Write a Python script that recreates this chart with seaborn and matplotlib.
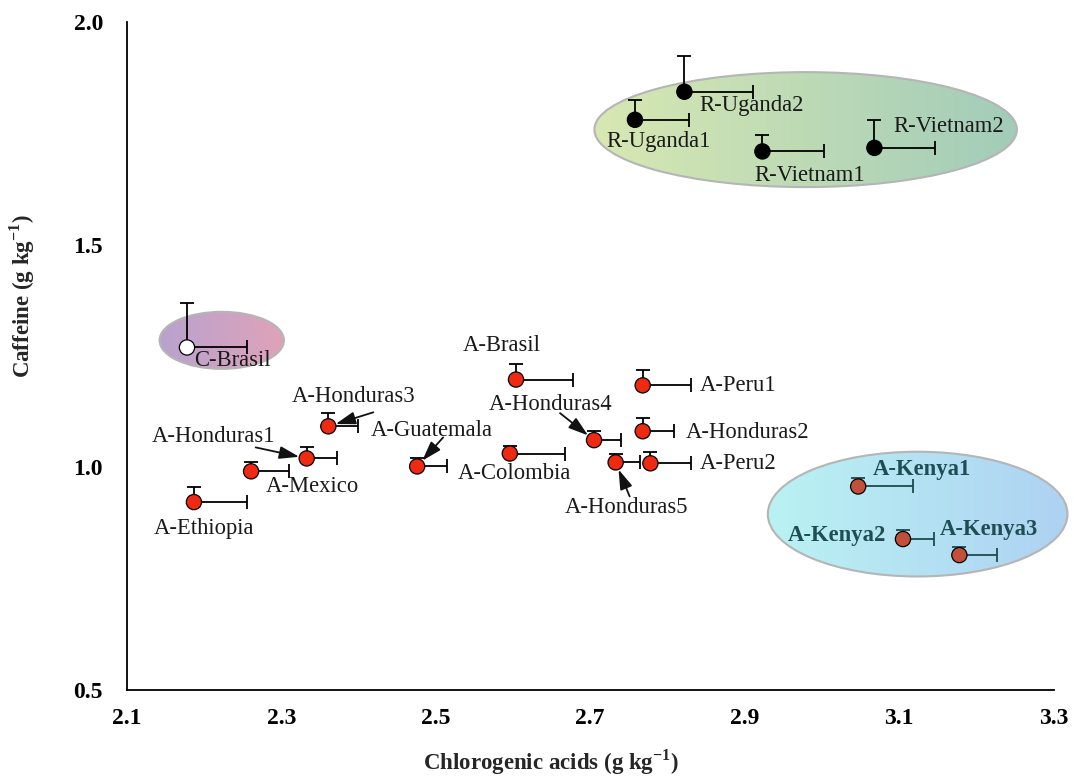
import numpy as np
import pandas as pd
import matplotlib
matplotlib.use("Agg")
import matplotlib.pyplot as plt
import seaborn as sns
from matplotlib.patches import Ellipse
from matplotlib.colors import LinearSegmentedColormap

sns.set_theme(style="white")
plt.rcParams['font.family'] = ['Liberation Serif', 'DejaVu Serif']

names = ["A-Ethiopia", "A-Mexico", "A-Honduras1", "A-Honduras3", "A-Guatemala",
         "A-Colombia", "A-Brasil", "A-Honduras4", "A-Honduras5", "A-Peru1",
         "A-Honduras2", "A-Peru2", "C-Brasil", "R-Uganda1", "R-Uganda2",
         "R-Vietnam1", "R-Vietnam2", "A-Kenya1", "A-Kenya2", "A-Kenya3"]
groups = ["A"] * 12 + ["C"] + ["R"] * 4 + ["K"] * 3
cga = [2.187, 2.261, 2.333, 2.361, 2.476, 2.596, 2.604, 2.705, 2.733, 2.768,
       2.768, 2.778, 2.178, 2.758, 2.822, 2.923, 3.068, 3.047, 3.105, 3.178]
caf = [0.922, 0.991, 1.020, 1.092, 1.002, 1.031, 1.197, 1.061, 1.011, 1.184,
       1.081, 1.009, 1.269, 1.780, 1.843, 1.709, 1.717, 0.957, 0.839, 0.803]
cga_err = [0.069, 0.049, 0.039, 0.039, 0.039, 0.071, 0.074, 0.035, 0.031, 0.062,
           0.041, 0.052, 0.078, 0.070, 0.089, 0.080, 0.078, 0.071, 0.040, 0.049]
caf_err = [0.034, 0.022, 0.025, 0.031, 0.018, 0.016, 0.036, 0.020, 0.018, 0.034,
           0.029, 0.025, 0.099, 0.045, 0.081, 0.038, 0.063, 0.018, 0.020, 0.018]

# label offsets in pixels (text centre relative to point)
label_off = {
    "A-Ethiopia": (10, -26), "A-Mexico": (61, -15), "A-Honduras1": (-93, 22),
    "A-Honduras3": (25, 30), "A-Guatemala": (15, 36), "A-Colombia": (5, -20),
    "A-Brasil": (-14, 34), "A-Honduras4": (-43, 36), "A-Honduras5": (11, -45),
    "A-Peru1": (95, 0), "A-Honduras2": (105, -1), "A-Peru2": (88, 0),
    "C-Brasil": (45, -13), "R-Uganda1": (24, -22), "R-Uganda2": (67, -14),
    "R-Vietnam1": (47, -24), "R-Vietnam2": (74, 21), "A-Kenya1": (64, 17),
    "A-Kenya2": (-66, 4), "A-Kenya3": (30, 26),
}
# arrow start (pixels, relative to the point)
arrow_start = {
    "A-Honduras1": (-51, 11),
    "A-Honduras3": (45, 14),
    "A-Guatemala": (26, 29),
    "A-Honduras4": (-34, 27),
    "A-Honduras5": (14, -34),
}

df = pd.DataFrame({"name": names, "group": groups, "cga": cga, "caf": caf,
                   "cga_err": cga_err, "caf_err": caf_err})

fig = plt.figure(figsize=(10.74, 7.78), dpi=100)
ax = fig.add_axes([0.118, 0.113, 0.863, 0.859])
ax.set_xlim(2.1, 3.3)
ax.set_ylim(0.5, 2.0)

# gradient ellipses
def grad_ellipse(cx, cy, w, h, c1, c2):
    e = Ellipse((cx, cy), w, h, facecolor="none", edgecolor="#b5b5b5",
                linewidth=1.5, zorder=1, clip_on=False)
    ax.add_patch(e)
    cmap = LinearSegmentedColormap.from_list("g", [c1, c2])
    grad = np.linspace(0, 1, 256).reshape(1, -1)
    im = ax.imshow(grad, cmap=cmap, extent=[cx - w / 2, cx + w / 2, cy - h / 2, cy + h / 2],
                   aspect="auto", zorder=0.5, interpolation="bilinear", origin="lower")
    im.set_clip_box(fig.bbox)
    im.set_clip_path(e)

grad_ellipse(2.979, 1.758, 0.547, 0.258, "#d8e8b2", "#a2ccb9")
grad_ellipse(2.223, 1.285, 0.161, 0.128, "#b8a2cf", "#e0a2b8")
grad_ellipse(3.124, 0.895, 0.388, 0.280, "#baf2f3", "#aed2f2")
ax.set_xlim(2.1, 3.3)
ax.set_ylim(0.5, 2.0)

# error bars (one-sided: right & up)
for _, r in df.iterrows():
    col = "#1f4a4f" if r.group == "K" else "black"
    ax.errorbar(r.cga, r.caf, xerr=[[0], [r.cga_err]], yerr=[[0], [r.caf_err]],
                fmt="none", ecolor=col, elinewidth=1.3, capsize=4.7, capthick=1.3, zorder=2)

palette = {"A": "#ee2a12", "C": "white", "R": "black", "K": "#c24f3a"}
sns.scatterplot(data=df, x="cga", y="caf", hue="group", palette=palette,
                s=120, edgecolor="black", linewidth=0.9, legend=False, ax=ax, zorder=3)

for _, r in df.iterrows():
    dx, dy = label_off[r["name"]]
    kw = dict(fontsize=16.3, color="#1a1a1a")
    if r.group == "K":
        kw = dict(fontsize=16.3, color="#1e4d54", fontweight="bold")
    ax.annotate(r["name"], xy=(r.cga, r.caf), xytext=(dx, dy), textcoords="offset pixels",
                ha="center", va="center", **kw)
    if r["name"] in arrow_start:
        sx, sy = arrow_start[r["name"]]
        ax.annotate("", xy=(r.cga, r.caf), xytext=(sx, sy), textcoords="offset pixels",
                    arrowprops=dict(arrowstyle="-|>,head_length=1.0,head_width=0.32",
                                    color="#111111", lw=1.3, shrinkA=0, shrinkB=5.5),
                    zorder=4)

ax.set_xticks([2.1, 2.3, 2.5, 2.7, 2.9, 3.1, 3.3])
ax.set_yticks([0.5, 1.0, 1.5, 2.0])
ax.set_xticklabels(["2.1", "2.3", "2.5", "2.7", "2.9", "3.1", "3.3"])
ax.set_yticklabels(["0.5", "1.0", "1.5", "2.0"])
ax.tick_params(axis="both", direction="in", length=7, width=1.3, colors="black",
               labelsize=17)
ax.tick_params(axis="x", pad=13)
ax.tick_params(axis="y", pad=17)
for lab in ax.get_xticklabels() + ax.get_yticklabels():
    lab.set_fontweight("bold")
for s in ["top", "right"]:
    ax.spines[s].set_visible(False)
for s in ["left", "bottom"]:
    ax.spines[s].set_color("black")
    ax.spines[s].set_linewidth(1.3)

ax.set_xlabel("Chlorogenic acids (g kg$^{\\mathregular{-1}}$)", fontsize=16.5, fontweight="bold")
ax.set_ylabel("Caffeine (g kg$^{\\mathregular{-1}}$)", fontsize=16.5, fontweight="bold")
ax.xaxis.label.set_va("center")
ax.yaxis.label.set_va("center")
ax.xaxis.set_label_coords(0.458, -0.108)
ax.yaxis.set_label_coords(-0.113, 0.59)

fig.savefig("out.png", dpi=100, facecolor="white")
